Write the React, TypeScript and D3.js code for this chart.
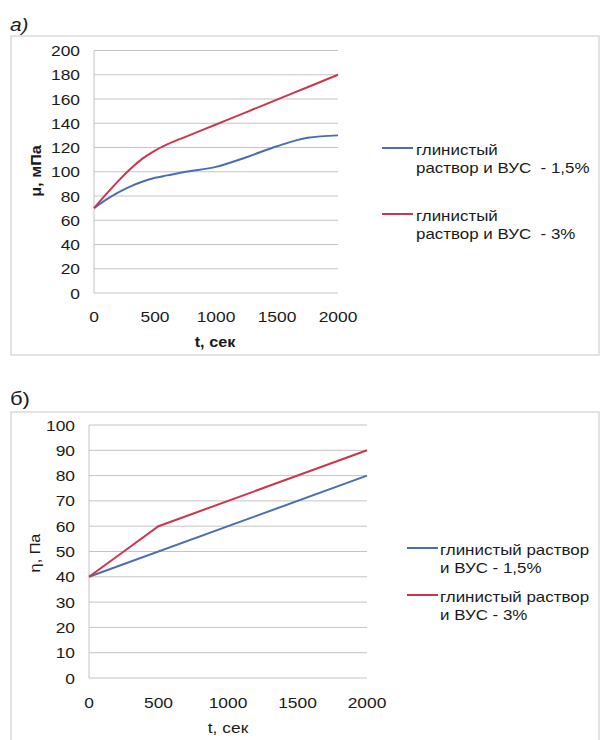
import React from "react";
import * as d3 from "d3";

const tA = [0, 100, 200, 300, 400, 500, 600, 750, 1000, 1250, 1500, 1750, 2000];
const blueA = [70, 77, 83, 88, 92, 95, 97, 100, 104, 112, 121, 128, 130];
const redA = [70, 81.5, 92.5, 102.5, 111, 117.5, 122.6, 128.8, 139, 149.2, 159.5, 169.7, 180];

const tB = [0, 250, 500, 2000];
const redB = [40, 50, 60, 90];
const tBblue = [0, 2000];
const blueB = [40, 80];

const xTicks = [0, 500, 1000, 1500, 2000];
const yTicksA = [0, 20, 40, 60, 80, 100, 120, 140, 160, 180, 200];
const yTicksB = [0, 10, 20, 30, 40, 50, 60, 70, 80, 90, 100];

const legendA = [
  ["глинистый", "раствор и ВУС\u00a0\u00a0- 1,5%"],
  ["глинистый", "раствор и ВУС\u00a0\u00a0- 3%"],
];
const legendB = [
  ["глинистый раствор", "и ВУС - 1,5%"],
  ["глинистый раствор", "и ВУС - 3%"],
];

const BLUE = "#4a6db5";
const RED = "#cc3550";
const GRID = "#c4c4c4";
const FONT = "'Liberation Sans', Arial, sans-serif";
const SX = 1.16;

function T({ x, y, children, anchor = "start", size = 15, weight = "normal", style = "normal", rotate = 0 }: any) {
  return (
    <text
      transform={`translate(${x},${y}) rotate(${rotate}) scale(${SX},1)`}
      textAnchor={anchor}
      fontSize={size}
      fontWeight={weight}
      fontStyle={style}
      fontFamily={FONT}
      fill="#1a1a1a"
    >
      {children}
    </text>
  );
}

export default function App() {
  // chart a
  const xa = d3.scaleLinear().domain([0, 2000]).range([94, 338]);
  const ya = d3.scaleLinear().domain([0, 200]).range([293, 50.5]);
  const lineA = d3
    .line<[number, number]>()
    .x((d) => xa(d[0]))
    .y((d) => ya(d[1]))
    .curve(d3.curveMonotoneX);

  // chart b
  const xb = d3.scaleLinear().domain([0, 2000]).range([89, 367]);
  const yb = d3.scaleLinear().domain([0, 100]).range([678, 425]);
  const lineB = d3
    .line<[number, number]>()
    .x((d) => xb(d[0]))
    .y((d) => yb(d[1]));

  const pA1 = tA.map((t, i) => [t, blueA[i]] as [number, number]);
  const pA2 = tA.map((t, i) => [t, redA[i]] as [number, number]);
  const pB1 = tBblue.map((t, i) => [t, blueB[i]] as [number, number]);
  const pB2 = tB.map((t, i) => [t, redB[i]] as [number, number]);

  return (
    <svg width={600} height={740} style={{ position: "absolute", left: 0, top: 0, background: "#fff" }}>
      {/* Chart a */}
      <T x={10} y={31} size={18} style="italic">а)</T>
      <rect x={11} y={36} width={588} height={319} fill="#fff" stroke="#c8c8c8" strokeWidth={1} />
      {yTicksA.map((v) => (
        <g key={"ga" + v}>
          <line x1={xa(0)} x2={xa(2000)} y1={ya(v)} y2={ya(v)} stroke={GRID} strokeWidth={1} />
          <T x={80} y={ya(v) + 5.5} anchor="end" size={15}>{v}</T>
        </g>
      ))}
      <line x1={xa(0)} x2={xa(0)} y1={ya(200)} y2={ya(0)} stroke={GRID} strokeWidth={1} />
      {xTicks.map((v) => (
        <T key={"xa" + v} x={xa(v)} y={322} anchor="middle" size={15}>{v}</T>
      ))}
      <T x={215} y={347} anchor="middle" size={14} weight="bold">t, сек</T>
      <T x={41} y={171} anchor="middle" size={14} weight="bold" rotate={-90}>μ, мПа</T>
      <path d={lineA(pA1) || ""} fill="none" stroke={BLUE} strokeWidth={2} />
      <path d={lineA(pA2) || ""} fill="none" stroke={RED} strokeWidth={2} />
      {legendA.map((lines, i) => {
        const y = i === 0 ? 148 : 214;
        return (
          <g key={"la" + i}>
            <line x1={382} x2={413} y1={y} y2={y} stroke={i === 0 ? BLUE : RED} strokeWidth={2} />
            <T x={416} y={y + 7} size={14.6}>{lines[0]}</T>
            <T x={416} y={y + 25} size={14.6}>{lines[1]}</T>
          </g>
        );
      })}

      {/* Chart b */}
      <T x={10} y={405} size={19}>б)</T>
      <rect x={11} y={412} width={588} height={340} fill="#fff" stroke="#c8c8c8" strokeWidth={1} />
      {yTicksB.map((v) => (
        <g key={"gb" + v}>
          <line x1={xb(0)} x2={xb(2000)} y1={yb(v)} y2={yb(v)} stroke={GRID} strokeWidth={1} />
          <T x={75} y={yb(v) + 5.5} anchor="end" size={15}>{v}</T>
        </g>
      ))}
      <line x1={xb(0)} x2={xb(0)} y1={yb(100)} y2={yb(0)} stroke={GRID} strokeWidth={1} />
      {xTicks.map((v) => (
        <T key={"xb" + v} x={xb(v)} y={708} anchor="middle" size={15}>{v}</T>
      ))}
      <T x={228} y={733} anchor="middle" size={15}>t, сек</T>
      <T x={40} y={553} anchor="middle" size={14} rotate={-90}>η, Па</T>
      <path d={lineB(pB1) || ""} fill="none" stroke={BLUE} strokeWidth={2} />
      <path d={lineB(pB2) || ""} fill="none" stroke={RED} strokeWidth={2} />
      {legendB.map((lines, i) => {
        const y = i === 0 ? 548 : 595;
        return (
          <g key={"lb" + i}>
            <line x1={407} x2={438} y1={y} y2={y} stroke={i === 0 ? BLUE : RED} strokeWidth={2} />
            <T x={440} y={y + 7} size={14.6}>{lines[0]}</T>
            <T x={440} y={y + 25} size={14.6}>{lines[1]}</T>
          </g>
        );
      })}
    </svg>
  );
}
